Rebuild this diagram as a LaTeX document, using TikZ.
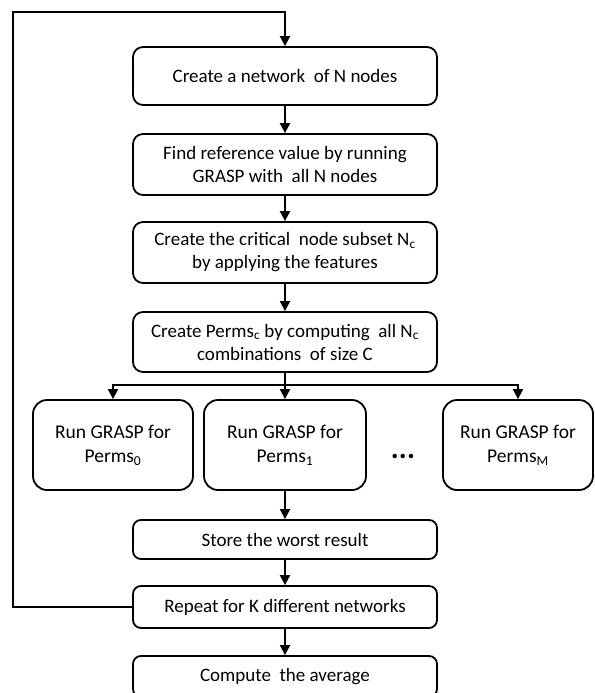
\documentclass[tikz,border=0pt]{standalone}
\usepackage{fontspec}
\setmainfont{Carlito}
\usetikzlibrary{arrows.meta}
\begin{document}
\begin{tikzpicture}[x=1pt,y=-1pt,
  line width=1.8pt,
  box/.style={draw, rounded corners=10pt, align=center, inner sep=0pt, minimum width=304pt, font=\fontsize{19}{23}\selectfont},
  sbox/.style={draw, rounded corners=14pt, align=center, inner sep=0pt, minimum height=90pt, font=\fontsize{19.5}{24}\selectfont},
  arr/.style={-{Triangle[length=10pt,width=10pt]}}]
\useasboundingbox (0,0) rectangle (594,693);
\node[box, minimum height=58pt] (b1) at (285,76) {Create a network\ \ of N nodes};
\node[box, minimum height=61pt] (b2) at (285,164.5) {Find reference value by running\\GRASP with\ \ all N nodes};
\node[box, minimum height=61pt] (b3) at (285,252.5) {Create the critical\ \ node subset N\textsubscript{c}\\by applying the features};
\node[box, minimum height=60pt] (b4) at (285,342) {Create Perms\textsubscript{c} by computing\ \ all N\textsubscript{c}\\combinations\ \ of size C};
\node[sbox, minimum width=160pt] (s0) at (113,445) {Run GRASP for\\Perms\textsubscript{0}};
\node[sbox, minimum width=162pt] (s1) at (285,445) {Run GRASP for\\Perms\textsubscript{1}};
\node[sbox, minimum width=150pt] (sM) at (518,445) {Run GRASP for\\Perms\textsubscript{M}};
\node[font=\fontsize{30}{30}\selectfont\bfseries] (dots) at (403,456) {...};
\node[box, rounded corners=8pt, minimum height=39pt] (st) at (285,539.5) {Store the worst result};
\node[box, rounded corners=8pt, minimum height=42pt] (rp) at (285,607) {Repeat for K different networks};
\node[box, rounded corners=8pt, minimum height=41pt] (cp) at (285,676.5) {Compute\ \ the average};
\coordinate (lb) at (13,607);
\coordinate (lt) at (13,12);
\coordinate (tt) at (285,12);
\coordinate (br) at (285,385);
\draw[arr] (rp.west) -- (lb) -- (lt) -- (tt) -- (b1.north);
\draw[arr] (b1) -- (b2);
\draw[arr] (b2) -- (b3);
\draw[arr] (b3) -- (b4);
\draw (b4.south) -- (br);
\draw[arr] (br) -- (s1.north);
\draw[arr] (br) -| (s0.north);
\draw[arr] (br) -| (sM.north);
\draw[arr] (s1) -- (st);
\draw[arr] (st) -- (rp);
\draw[arr] (rp) -- (cp);
\end{tikzpicture}
\end{document}
